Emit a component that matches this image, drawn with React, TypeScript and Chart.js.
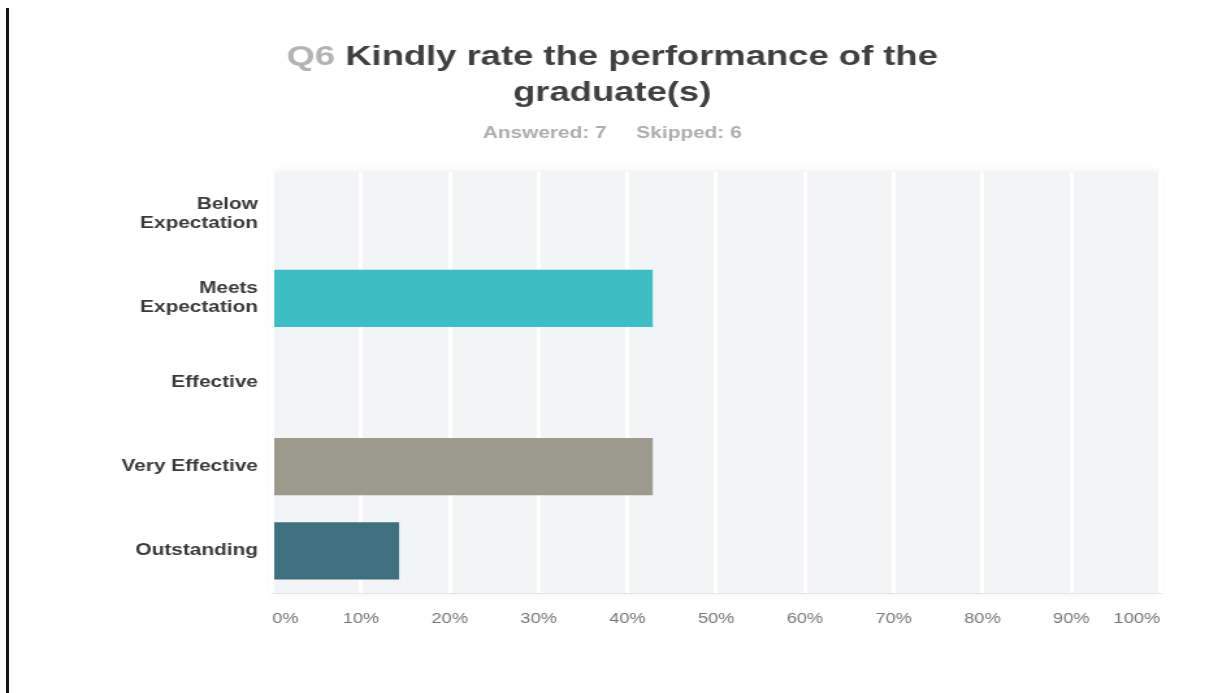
import React, { useEffect, useRef } from 'react';
import { Chart, registerables } from 'chart.js';

Chart.register(...registerables);

// ---- data ----
const categories: (string | string[])[] = [
  ['Below', 'Expectation'],
  ['Meets', 'Expectation'],
  'Effective',
  'Very Effective',
  'Outstanding',
];
const percentages = [0, 42.86, 0, 42.86, 14.29];
const barColors = ['#6fb3c6', '#3dbec4', '#c9c6b6', '#9b9a8d', '#3e7080'];
const questionNumber = 'Q6';
const questionLines = ['Kindly rate the performance of the', 'graduate(s)'];
const answered = 7;
const skipped = 6;
const axisMin = 0;
const axisMax = 100;
const axisStep = 10;

const FONT = '"Liberation Sans", Arial, Helvetica, sans-serif';
const CANVAS_W = 928;
const CANVAS_H = 685;
const STRETCH_X = 1.3;

const plotBackground = {
  id: 'plotBackground',
  beforeDraw(chart: any) {
    const { ctx, chartArea: a } = chart;
    ctx.save();
    ctx.shadowColor = 'rgba(0,0,0,0.07)';
    ctx.shadowBlur = 8;
    ctx.fillStyle = '#f2f4f6';
    ctx.fillRect(a.left, a.top, a.right - a.left, a.bottom - a.top);
    ctx.restore();
  },
};

const surveyHeader = {
  id: 'surveyHeader',
  afterDraw(chart: any) {
    const { ctx } = chart;
    const cx = chart.width / 2;
    ctx.save();
    ctx.textBaseline = 'alphabetic';
    ctx.textAlign = 'left';
    ctx.font = `bold 28px ${FONT}`;
    const prefix = questionNumber + ' ';
    const pw = ctx.measureText(prefix).width;
    const tw = ctx.measureText(questionLines[0]).width;
    const x = cx - (pw + tw) / 2;
    ctx.fillStyle = '#b3b3b3';
    ctx.fillText(prefix, x, 57);
    ctx.fillStyle = '#404040';
    ctx.fillText(questionLines[0], x + pw, 57);
    ctx.textAlign = 'center';
    ctx.fillText(questionLines[1], cx, 93);

    ctx.font = `bold 16px ${FONT}`;
    ctx.fillStyle = '#adadad';
    ctx.textAlign = 'left';
    const a = `Answered: ${answered}`;
    const s = `Skipped: ${skipped}`;
    const gap = 23;
    const aw = ctx.measureText(a).width;
    const sw = ctx.measureText(s).width;
    const sx = cx - (aw + gap + sw) / 2;
    ctx.fillText(a, sx, 130);
    ctx.fillText(s, sx + aw + gap, 130);
    ctx.restore();
  },
};

export default function App() {
  const canvasRef = useRef<HTMLCanvasElement | null>(null);

  useEffect(() => {
    if (!canvasRef.current) return;
    Chart.defaults.font.family = FONT;
    const chart = new Chart(canvasRef.current, {
      type: 'bar',
      data: {
        labels: categories,
        datasets: [
          {
            data: percentages,
            backgroundColor: barColors,
            borderWidth: 0,
            barPercentage: 0.68,
            categoryPercentage: 1,
          },
        ],
      },
      options: {
        indexAxis: 'y',
        responsive: false,
        animation: false,
        layout: { padding: { top: 164, right: 42.6, bottom: 0, left: 0 } },
        plugins: {
          legend: { display: false },
          title: { display: false },
          tooltip: { enabled: false },
        },
        scales: {
          x: {
            min: axisMin,
            max: axisMax,
            ticks: {
              stepSize: axisStep,
              callback: (v: any) => v + '%',
              align: 'inner',
              padding: 18,
              color: '#777777',
              font: { size: 14 },
            },
            grid: { color: '#ffffff', lineWidth: 3, drawTicks: false },
            border: { display: true, color: '#e3e5e7', width: 1 },
            afterFit: (s: any) => {
              s.height = 100;
            },
          },
          y: {
            ticks: {
              padding: 11,
              color: '#3a3a3a',
              font: { size: 16, weight: 'bold' },
            },
            grid: { display: false, drawTicks: false },
            border: { display: false },
            afterFit: (s: any) => {
              s.width = 202.5;
            },
          },
        },
      } as any,
      plugins: [plotBackground, surveyHeader],
    });
    return () => chart.destroy();
  }, []);

  return (
    <div
      style={{
        position: 'fixed',
        left: 6,
        top: 8,
        right: 0,
        bottom: 0,
        overflow: 'hidden',
        borderLeft: '3px solid #141414',
        background: '#ffffff',
      }}
    >
      <div
        style={{
          width: CANVAS_W,
          height: CANVAS_H,
          transform: `scaleX(${STRETCH_X})`,
          transformOrigin: '0 0',
        }}
      >
        <canvas ref={canvasRef} width={CANVAS_W} height={CANVAS_H} />
      </div>
    </div>
  );
}
